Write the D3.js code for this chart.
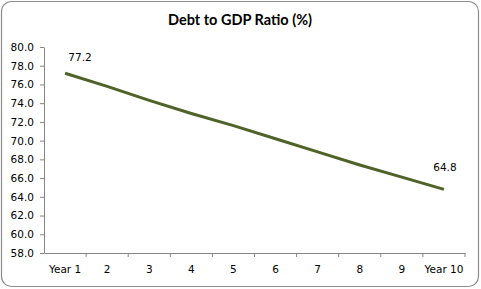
<!DOCTYPE html>
<html>
<head>
<meta charset="utf-8">
<script src="https://cdn.jsdelivr.net/npm/d3@7"></script>
<style>
body{margin:0;background:#fff;}
svg{display:block;}
</style>
</head>
<body>
<div id="chart"></div>
<script>
// data
var years = ["Year 1","2","3","4","5","6","7","8","9","Year 10"];
var ratio = [77.2, 75.8, 74.3, 72.9, 71.6, 70.2, 68.8, 67.4, 66.1, 64.8];
var yTicks = [58,60,62,64,66,68,70,72,74,76,78,80];
var labelIdx = [0, 9];

var W = 481, H = 289;
var m = {left:44, right:16, top:47, bottom:36};

var svg = d3.select("#chart").append("svg").attr("width",W).attr("height",H);

// outer frame
svg.append("rect").attr("x",1.5).attr("y",1.5).attr("width",W-4).attr("height",H-4)
	.attr("rx",10).attr("fill","#fff").attr("stroke","#8c8c8c").attr("stroke-width",1.2);

svg.append("text").attr("x",240).attr("y",25).attr("text-anchor","middle")
	.attr("font-family","Lato, 'Open Sans', sans-serif").attr("font-weight","bold")
	.attr("font-size","14.5px").attr("fill","#000").text("Debt to GDP Ratio (%)");

var x = d3.scaleBand().domain(years).range([m.left, W-m.right]);
var y = d3.scaleLinear().domain([58,80]).range([H-m.bottom, m.top]);

var font = "'DejaVu Sans', Verdana, sans-serif";

// y axis
var ya = svg.append("g").attr("transform","translate("+m.left+",0)")
	.call(d3.axisLeft(y).tickValues(yTicks).tickFormat(d3.format(".1f")).tickSize(4).tickSizeOuter(0));
ya.select(".domain").attr("stroke","#868686");
ya.selectAll(".tick line").attr("stroke","#868686");
ya.selectAll("text").attr("font-family",font).attr("font-size","10.5px").attr("fill","#000").attr("x",-10);

// x axis, ticks between categories
var xa = svg.append("g").attr("transform","translate(0,"+(H-m.bottom)+")")
	.call(d3.axisBottom(x).tickSize(0).tickSizeOuter(0));
xa.select(".domain").attr("stroke","#868686");
xa.selectAll("text").attr("font-family",font).attr("font-size","10.5px").attr("fill","#000").attr("dy","1.65em");
var edges = years.map(function(d){ return x(d)+x.bandwidth(); });
xa.selectAll(".sep").data(edges).enter().append("line").attr("class","sep")
	.attr("x1",function(d){return d;}).attr("x2",function(d){return d;})
	.attr("y1",0).attr("y2",4).attr("stroke","#868686");

// line
var pts = years.map(function(d,i){ return [x(d)+x.bandwidth()/2, y(ratio[i])]; });
svg.append("path").attr("d",d3.line()(pts)).attr("fill","none")
	.attr("stroke","#4f6228").attr("stroke-width",3).attr("stroke-linejoin","round");

// data labels
var dxs = {0:15, 9:1};
var dys = {0:-12, 9:-18};
svg.selectAll(".lbl").data(labelIdx).enter().append("text").attr("class","lbl")
	.attr("x",function(i){ return pts[i][0]+dxs[i]; })
	.attr("y",function(i){ return pts[i][1]+dys[i]; })
	.attr("text-anchor","middle").attr("font-family",font).attr("font-size","10.5px")
	.attr("fill","#000").text(function(i){ return ratio[i].toFixed(1); });
</script>
</body>
</html>
